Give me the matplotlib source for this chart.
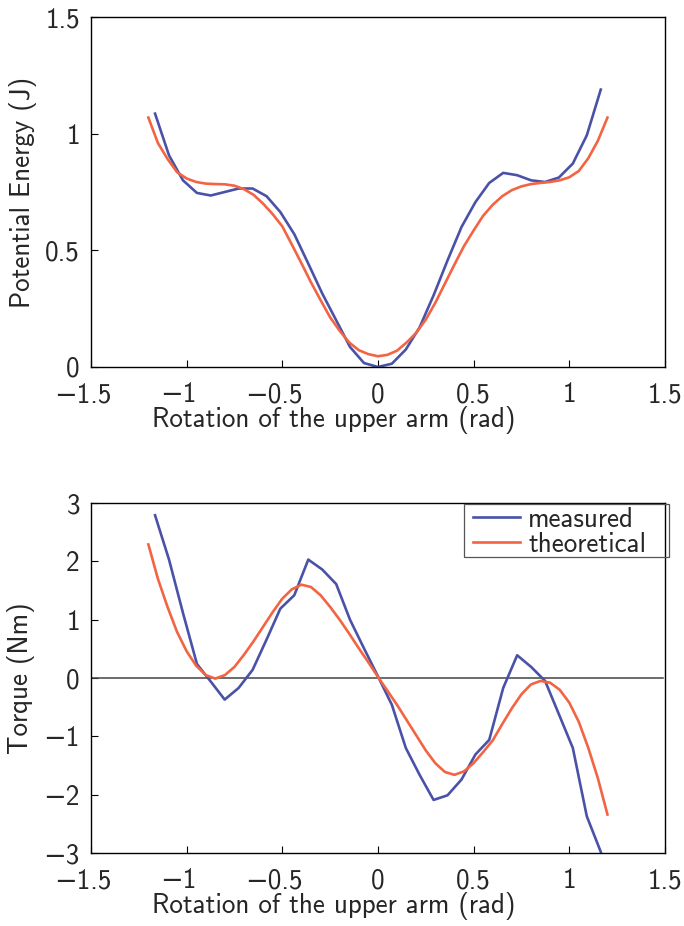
import matplotlib
matplotlib.use("Agg")
import matplotlib.pyplot as plt
import matplotlib.transforms as mtransforms
from matplotlib.patches import Rectangle

plt.rcParams['font.family'] = ['cmss10', 'DejaVu Sans']
plt.rcParams['axes.unicode_minus'] = True

# measured samples (same angles for energy and torque)
x_meas = [-1.165, -1.092, -1.019, -0.946, -0.874, -0.801, -0.728, -0.655,
          -0.582, -0.510, -0.437, -0.364, -0.291, -0.218, -0.146, -0.073,
          0.0, 0.073, 0.146, 0.218, 0.291, 0.364, 0.437, 0.510,
          0.582, 0.655, 0.728, 0.801, 0.874, 0.946, 1.019, 1.092, 1.165]
energy_meas = [1.086, 0.907, 0.800, 0.746, 0.735, 0.750, 0.765, 0.765,
               0.732, 0.664, 0.569, 0.443, 0.315, 0.200, 0.086, 0.017,
               0.0, 0.014, 0.075, 0.170, 0.307, 0.457, 0.600, 0.707,
               0.789, 0.832, 0.822, 0.800, 0.793, 0.812, 0.872, 0.993, 1.189]
torque_meas = [2.79, 2.03, 1.115, 0.24, -0.06, -0.37, -0.17, 0.14,
               0.66, 1.19, 1.42, 2.03, 1.86, 1.61, 1.0, 0.51,
               0.03, -0.46, -1.2, -1.66, -2.09, -2.01, -1.74, -1.31,
               -1.06, -0.17, 0.39, 0.19, -0.05, -0.62, -1.2, -2.37, -2.98]

# theoretical curve
x_theo = [-1.20, -1.15, -1.10, -1.05, -1.00, -0.95, -0.90, -0.85, -0.80, -0.75,
          -0.70, -0.65, -0.60, -0.55, -0.50, -0.45, -0.40, -0.35, -0.30, -0.25,
          -0.20, -0.15, -0.10, -0.05, 0.00, 0.05, 0.10, 0.15, 0.20, 0.25,
          0.30, 0.35, 0.40, 0.45, 0.50, 0.55, 0.60, 0.65, 0.70, 0.75,
          0.80, 0.85, 0.90, 0.95, 1.00, 1.05, 1.10, 1.15, 1.20]
energy_theo = [1.069, 0.960, 0.892, 0.835, 0.808, 0.793, 0.786, 0.784, 0.783, 0.777,
               0.762, 0.738, 0.700, 0.655, 0.603, 0.525, 0.445, 0.363, 0.287, 0.213,
               0.155, 0.105, 0.072, 0.055, 0.046, 0.052, 0.070, 0.105, 0.146, 0.203,
               0.275, 0.357, 0.439, 0.518, 0.585, 0.648, 0.695, 0.732, 0.758, 0.774,
               0.784, 0.789, 0.793, 0.800, 0.813, 0.840, 0.895, 0.970, 1.069]
torque_theo = [2.29, 1.70, 1.22, 0.79, 0.46, 0.21, 0.05, -0.01, 0.05, 0.19,
               0.40, 0.63, 0.88, 1.13, 1.36, 1.52, 1.60, 1.56, 1.42, 1.22,
               1.00, 0.76, 0.51, 0.27, 0.02, -0.22, -0.46, -0.72, -0.98, -1.24,
               -1.46, -1.61, -1.66, -1.60, -1.46, -1.27, -1.07, -0.79, -0.52, -0.28,
               -0.11, -0.05, -0.08, -0.20, -0.42, -0.75, -1.20, -1.72, -2.34]

xticks = [-1.5, -1, -0.5, 0, 0.5, 1, 1.5]
xticklabels = ['\u22121.5', '\u22121', '\u22120.5', '0', '0.5', '1', '1.5']

blue = '#4a52a8'
orange = '#f36443'
txt = '#262626'
fs = 19.5

fig = plt.figure(figsize=(6.84, 9.26), dpi=100)
ax1 = fig.add_axes([0.133, 0.6037, 0.839, 0.3779])
ax2 = fig.add_axes([0.133, 0.0788, 0.839, 0.378])

def style(ax, yticks, ylabels):
    ax.set_xlim(-1.5, 1.5)
    ax.set_xticks(xticks)
    ax.set_xticklabels(xticklabels)
    ax.set_yticks(yticks)
    ax.set_yticklabels(ylabels)
    ax.tick_params(direction='in', length=5, width=0.8, labelsize=fs,
                   labelcolor=txt)
    ax.tick_params(axis='x', pad=11)
    ax.tick_params(axis='y', pad=8)
    # negative labels sit a little to the left, as in the original
    shift = mtransforms.ScaledTranslation(-6 / 72, 0, fig.dpi_scale_trans)
    for lab in ax.get_xticklabels():
        if lab.get_text().startswith('\u2212'):
            lab.set_transform(lab.get_transform() + shift)
    for s in ax.spines.values():
        s.set_linewidth(1.0)
    ax.set_xlabel('Rotation of the upper arm (rad)', fontsize=fs, color=txt)
    ax.xaxis.set_label_coords(0.423, -0.112)

ax1.plot(x_meas, energy_meas, color=blue, lw=1.9)
ax1.plot(x_theo, energy_theo, color=orange, lw=1.9)
ax1.set_ylim(0, 1.5)
style(ax1, [0, 0.5, 1, 1.5], ['0', '0.5', '1', '1.5'])
ax1.set_ylabel('Potential Energy (J)', fontsize=fs, color=txt, labelpad=6)

ax2.axhline(0, color='#444444', lw=1.1, xmin=0, xmax=0.997)
ax2.plot(x_meas, torque_meas, color=blue, lw=1.9, label='measured')
ax2.plot(x_theo, torque_theo, color=orange, lw=1.9, label='theoretical')
ax2.set_ylim(-3, 3)
style(ax2, [-3, -2, -1, 0, 1, 2, 3], ['\u22123', '\u22122', '\u22121', '0', '1', '2', '3'])
ax2.set_ylabel('Torque (Nm)', fontsize=fs, color=txt, labelpad=6)

leg = ax2.legend(loc='upper left', bbox_to_anchor=(470 / 684, 1 - 504 / 926),
                 bbox_transform=fig.transFigure, fontsize=fs, frameon=False,
                 borderpad=0.1, labelspacing=0.0,
                 handlelength=1.75, handletextpad=0.3, borderaxespad=0)
for t in leg.get_texts():
    t.set_color(txt)
fig.patches.append(Rectangle((464 / 684, 1 - 557 / 926), 205 / 684, 53 / 926,
                             transform=fig.transFigure, fill=False,
                             edgecolor='#555555', linewidth=0.9, zorder=5))

fig.savefig('out.png', dpi=100)
